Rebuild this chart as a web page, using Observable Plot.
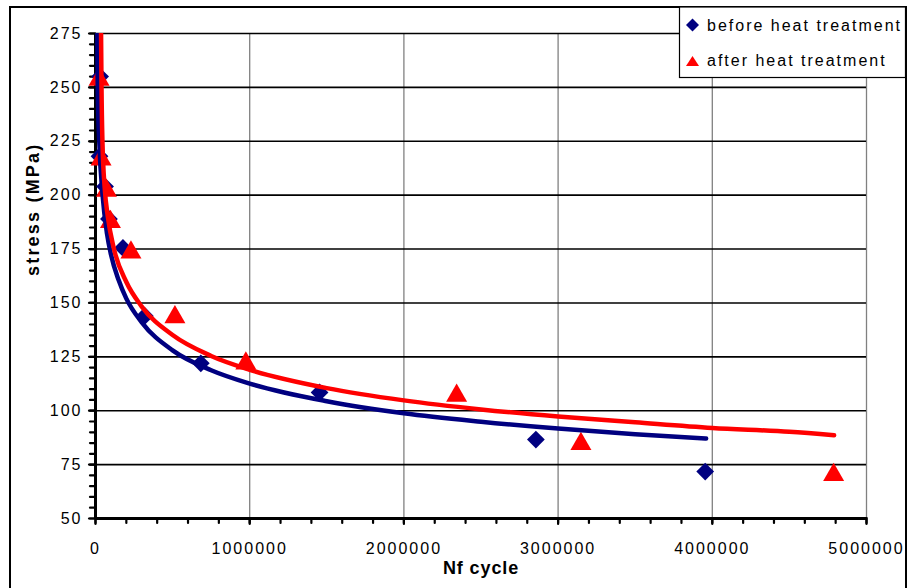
<!DOCTYPE html>
<html>
<head>
<meta charset="utf-8">
<script src="https://cdn.jsdelivr.net/npm/d3@7"></script>
<script src="https://cdn.jsdelivr.net/npm/@observablehq/plot@0.6"></script>
<style>
html, body { margin: 0; padding: 0; background: #fff; }
#wrap { position: relative; width: 910px; height: 588px; overflow: hidden; font-family: "Liberation Sans", Arial, sans-serif; }
#wrap svg text { letter-spacing: 2px; }
#overlay { position: absolute; left: 0; top: 0; pointer-events: none; }
</style>
</head>
<body>
<div id="wrap"></div>
<script>
// ---- data ----
const beforeN = [30000, 26000, 62000, 87000, 178000, 320000, 683000, 1453000, 2856000, 3954000];
const beforeS = [255, 218, 204, 189, 175.5, 144, 122, 108.5, 86.6, 71.8];
const afterN  = [23000, 36000, 71000, 97000, 230000, 515000, 975000, 2342000, 3148000, 4787000];
const afterS  = [255, 218, 203.5, 189, 174.8, 144.8, 123.3, 108.4, 86, 71.6];

// trend curves
const beforeCurveN = [12000, 15000, 25000, 46000, 75000, 100000, 150000, 200000, 300000, 500000, 750000, 1000000, 1500000, 2000000, 2500000, 3000000, 3500000, 3960000];
const beforeCurveS = [275, 247, 224, 200, 182, 172.6, 160.6, 152, 141, 128, 118.8, 112.6, 104.4, 98.8, 94.9, 91.7, 89.1, 87.1];
const afterCurveN  = [36000, 39000, 45000, 60000, 80000, 120000, 200000, 300000, 500000, 750000, 1000000, 1500000, 2000000, 2500000, 3000000, 3500000, 4000000, 4500000, 4790000];
const afterCurveS  = [275, 250, 225, 203, 190, 175, 159.7, 148.3, 135.1, 125.4, 119, 110.5, 104.8, 100.6, 97.3, 94.6, 92.0, 90.2, 88.6];

const xMajor = [0, 1000000, 2000000, 3000000, 4000000, 5000000];
const xTickLabels = ["0", "1000000", "2000000", "3000000", "4000000", "5000000"];
const xMinor = d3.range(0, 5000001, 200000);
const yMajor = [50, 75, 100, 125, 150, 175, 200, 225, 250, 275];
const yTickLabels = ["50", "75", "100", "125", "150", "175", "200", "225", "250", "275"];
const yMinor = d3.range(50, 276, 5);

const seriesNames = ["before heat treatment", "after heat treatment"];
const xTitle = "Nf cycle";
const yTitle = "stress (MPa)";

const navy = "#000080", red = "#ff0000";

const before = beforeN.map((n, i) => ({N: n, S: beforeS[i]}));
const after = afterN.map((n, i) => ({N: n, S: afterS[i]}));
const beforeCurve = beforeCurveN.map((n, i) => ({N: n, S: beforeCurveS[i]}));
const afterCurve = afterCurveN.map((n, i) => ({N: n, S: afterCurveS[i]}));

const chart = Plot.plot({
  width: 910, height: 588,
  marginLeft: 95, marginRight: 44, marginTop: 33, marginBottom: 70,
  x: {domain: [0, 5000000]},
  y: {domain: [50, 275]},
  style: {fontFamily: '"Liberation Sans", Arial, sans-serif', fontSize: "16px", color: "#000", background: "transparent", overflow: "visible"},
  marks: [
    Plot.ruleX(xMajor.filter(d => d > 0), {stroke: "#808080", strokeWidth: 1.3}),
    Plot.ruleY(yMajor.filter(d => d > 50), {stroke: "#000", strokeWidth: 1.6}),
    Plot.axisX(xMinor, {tickSize: 5, tickFormat: () => "", strokeWidth: 2.2, label: null, strokeLinecap: "round"}),
    Plot.axisX(xMajor, {tickSize: 6, tickPadding: 18, tickFormat: (d, i) => xTickLabels[i], strokeWidth: 2.2, label: null, fontSize: 16, strokeLinecap: "round"}),
    Plot.axisY(yMinor, {tickSize: 5, tickFormat: () => "", strokeWidth: 2.2, label: null, strokeLinecap: "round"}),
    Plot.axisY(yMajor, {tickSize: 6, tickPadding: 7, tickFormat: (d, i) => yTickLabels[i], strokeWidth: 2.2, label: null, fontSize: 16, strokeLinecap: "round"}),
    Plot.ruleX([0], {stroke: "#000", strokeWidth: 3}),
    Plot.ruleY([50], {stroke: "#000", strokeWidth: 3}),
    Plot.dot(before, {x: "N", y: "S", symbol: "diamond2", r: 8, fill: navy, stroke: "none"}),
    Plot.dot(after, {x: "N", y: "S", symbol: "triangle", r: 7.8, fill: red, stroke: "none", dy: 3}),
    Plot.line(beforeCurve, {x: "N", y: "S", stroke: navy, strokeWidth: 4.5, curve: "monotone-x", clip: true}),
    Plot.line(afterCurve, {x: "N", y: "S", stroke: red, strokeWidth: 4.5, curve: "monotone-x", clip: true}),
    Plot.text([xTitle], {frameAnchor: "bottom", dy: 43, lineAnchor: "top", fontWeight: "bold", fontSize: 18}),
    Plot.text([yTitle], {frameAnchor: "left", dx: -62, rotate: -90, fontWeight: "bold", fontSize: 18})
  ]
});

const wrap = document.getElementById("wrap");
wrap.appendChild(chart);

d3.select(chart).selectAll("text").each(function() {
  const t = this.textContent;
  if (t === yTitle) this.style.letterSpacing = "2.2px";
  if (t === xTitle) this.style.letterSpacing = "0.9px";
});

// frame + legend overlay
const ov = d3.select(wrap).append("svg").attr("id", "overlay").attr("width", 910).attr("height", 588);
ov.append("path").attr("d", "M10,600V7H906V600").attr("fill", "none").attr("stroke", "#000").attr("stroke-width", 2);
ov.append("rect").attr("x", 679.5).attr("y", 7).attr("width", 226).attr("height", 70.5)
  .attr("fill", "#fff").attr("stroke", "#000").attr("stroke-width", 1.2);
ov.append("polygon").attr("points", "692.5,18.5 699,25 692.5,31.5 686,25").attr("fill", navy);
ov.append("polygon").attr("points", "686,66 699,66 692.5,56").attr("fill", red);
ov.append("text").attr("x", 707).attr("y", 31).attr("font-size", 16).attr("fill", "#000").text(seriesNames[0]);
ov.append("text").attr("x", 707).attr("y", 66).attr("font-size", 16).attr("fill", "#000").text(seriesNames[1]);
</script>
</body>
</html>
